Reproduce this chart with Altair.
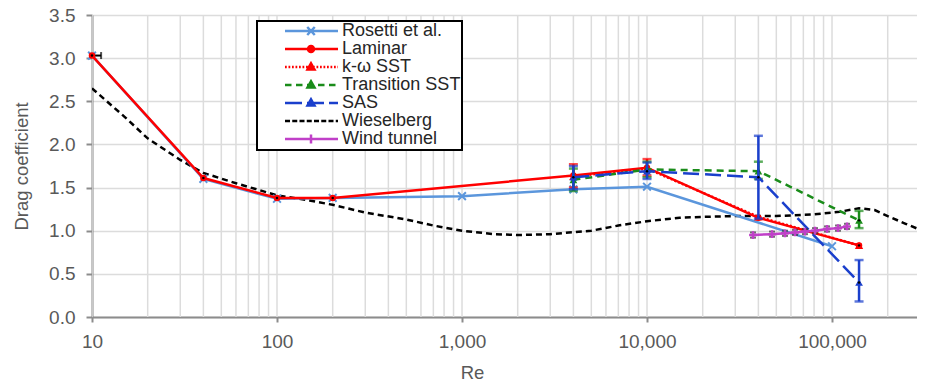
import altair as alt
import pandas as pd

# ---------------- data ----------------
rosetti_re = [10, 40, 100, 200, 1000, 4000, 10000, 100000]
rosetti_cd = [3.03, 1.60, 1.37, 1.38, 1.40, 1.48, 1.51, 0.82]
rosetti_xerr_cd = [3.03]
rosetti_xerr_lo = [10]
rosetti_xerr_hi = [11.2]

laminar_re = [10, 40, 100, 200, 4000, 10000, 40000, 140000]
laminar_cd = [3.03, 1.61, 1.38, 1.38, 1.64, 1.73, 1.15, 0.83]
laminar_err_re = [4000, 10000]
laminar_err_lo = [1.50, 1.64]
laminar_err_hi = [1.77, 1.83]

kw_re = [4000, 10000, 40000, 140000]
kw_cd = [1.63, 1.72, 1.16, 0.83]

trans_re = [4000, 10000, 40000, 140000]
trans_cd = [1.59, 1.71, 1.69, 1.12]
trans_lo = [1.46, 1.62, 1.60, 1.03]
trans_hi = [1.72, 1.80, 1.80, 1.23]

sas_re = [4000, 10000, 40000, 140000]
sas_cd = [1.62, 1.69, 1.62, 0.40]
sas_lo = [1.48, 1.60, 1.14, 0.18]
sas_hi = [1.75, 1.79, 2.10, 0.66]

wies_re = [10, 15, 20, 30, 40, 60, 100, 150, 200, 300, 500, 700, 1000, 1500,
           2000, 3000, 5000, 7000, 10000, 15000, 20000, 30000, 50000, 80000,
           110000, 140000, 170000, 200000, 250000, 300000]
wies_cd = [2.65, 2.32, 2.07, 1.82, 1.67, 1.55, 1.41, 1.35, 1.30, 1.21, 1.13,
           1.06, 1.00, 0.96, 0.95, 0.96, 1.00, 1.06, 1.11, 1.15, 1.16, 1.17,
           1.17, 1.19, 1.22, 1.26, 1.24, 1.17, 1.08, 1.01]

wind_re = [37400, 47400, 55700, 63100, 71400, 80900, 94000, 107700, 120500]
wind_cd = [0.95, 0.96, 0.97, 0.98, 0.99, 1.00, 1.02, 1.03, 1.05]
wind_lo = [0.92, 0.93, 0.94, 0.95, 0.96, 0.97, 0.99, 1.00, 1.02]
wind_hi = [0.98, 0.99, 1.00, 1.01, 1.02, 1.03, 1.05, 1.06, 1.08]

x_ticks = [10, 100, 1000, 10000, 100000]
y_ticks = [0.0, 0.5, 1.0, 1.5, 2.0, 2.5, 3.0, 3.5]
grid_mult = [1, 2, 3, 4, 5, 6, 7, 8, 9]
grid_decades = [10, 100, 1000, 10000, 100000]
grid_re = [m * d for d in grid_decades for m in grid_mult]

series_names = ["Rosetti et al.", "Laminar", "k-ω SST", "Transition SST",
                "SAS", "Wieselberg", "Wind tunnel"]
series_colors = ["#5b96dc", "#ff0000", "#ff0000", "#1a8c1a", "#1a3fcc",
                 "#000000", "#c040c8"]

C_ROS, C_LAM, C_KW, C_TR, C_SAS, C_WIE, C_WIND = series_colors

# ---------------- scales / axes ----------------
XS = alt.Scale(type="log", domain=[10, 288000], nice=False)
YS = alt.Scale(domain=[0, 3.5], nice=False)

x_axis = alt.Axis(values=x_ticks, format=",", title="Re", grid=False,
                  tickSize=5, labelPadding=10, labelFlush=False,
                  titleX=380, titleY=55, titleBaseline="middle",
                  titleAlign="center")
y_axis = alt.Axis(values=y_ticks, format=".1f", title="Drag coefficient",
                  grid=True, tickSize=6, labelPadding=11,
                  titleX=-71, titleY=151, titleAngle=270,
                  titleBaseline="middle", titleAlign="center")


def X(field):
    return alt.X(field, type="quantitative", scale=XS, axis=x_axis)


def Y(field):
    return alt.Y(field, type="quantitative", scale=YS, axis=y_axis)


def df_line(re, cd):
    return pd.DataFrame({"re": re, "cd": cd})


def line_layer(df, color, dash=None, width=2.5):
    kw = dict(color=color, strokeWidth=width, clip=True)
    if dash:
        kw["strokeDash"] = dash
    return alt.Chart(df).mark_line(**kw).encode(x=X("re"), y=Y("cd"))


def point_layer(df, shape, color, size, filled=True, sw=1.5):
    return alt.Chart(df).mark_point(shape=shape, color=color, size=size,
                                    filled=filled, opacity=1,
                                    strokeWidth=sw).encode(x=X("re"), y=Y("cd"))


def dot_layer(df):
    return alt.Chart(df).mark_point(shape="circle", color="black", size=6,
                                    filled=True, opacity=1).encode(x=X("re"), y=Y("cd"))


def err_layers(re, lo, hi, color, width=2.5, cap=9):
    df = pd.DataFrame({"re": re, "lo": lo, "hi": hi})
    rule = alt.Chart(df).mark_rule(color=color, strokeWidth=width).encode(
        x=X("re"), y=Y("lo"), y2=alt.Y2("hi"))
    c1 = alt.Chart(df).mark_tick(orient="horizontal", color=color, size=cap,
                                 thickness=width).encode(x=X("re"), y=Y("lo"))
    c2 = alt.Chart(df).mark_tick(orient="horizontal", color=color, size=cap,
                                 thickness=width).encode(x=X("re"), y=Y("hi"))
    return [rule, c1, c2]


SHAPE_X = "M-1,-1L1,1M-1,1L1,-1"
SHAPE_PLUS = "M-1,0L1,0M0,-1L0,1"

layers = []

# vertical log grid
grid_df = pd.DataFrame({"re": grid_re})
layers.append(alt.Chart(grid_df).mark_rule(color="#dcdcdc", strokeWidth=1.5,
                                           clip=True).encode(x=X("re")))

# Wieselberg
layers.append(line_layer(df_line(wies_re, wies_cd), C_WIE, dash=[6, 4]))

# Rosetti
ros = df_line(rosetti_re, rosetti_cd)
layers.append(line_layer(ros, C_ROS))
layers.append(point_layer(ros, SHAPE_X, C_ROS, 60, filled=False, sw=2))
xerr = pd.DataFrame({"lo": rosetti_xerr_lo, "hi": rosetti_xerr_hi,
                     "cd": rosetti_xerr_cd})
layers.append(alt.Chart(xerr).mark_rule(color="black", strokeWidth=2, clip=True)
              .encode(x=X("lo"), x2=alt.X2("hi"), y=Y("cd")))
layers.append(alt.Chart(xerr).mark_tick(orient="vertical", color="black",
                                        size=7, thickness=2)
              .encode(x=X("hi"), y=Y("cd")))

# Laminar
lam = df_line(laminar_re, laminar_cd)
layers.append(line_layer(lam, C_LAM))
layers += err_layers(laminar_err_re, laminar_err_lo, laminar_err_hi, C_LAM)
layers.append(point_layer(lam, "circle", C_LAM, 42))
layers.append(dot_layer(lam))

# k-omega SST
kw = df_line(kw_re, kw_cd)
layers.append(line_layer(kw, C_KW, dash=[2, 2]))
layers.append(point_layer(kw, "triangle-up", C_KW, 70))
layers.append(dot_layer(kw))

# Transition SST
tr = df_line(trans_re, trans_cd)
layers.append(line_layer(tr, C_TR, dash=[7, 5]))
layers += err_layers(trans_re, trans_lo, trans_hi, C_TR)
layers.append(point_layer(tr, "triangle-up", C_TR, 60))
layers.append(dot_layer(tr))

# SAS
sas = df_line(sas_re, sas_cd)
layers.append(line_layer(sas, C_SAS, dash=[16, 6]))
layers += err_layers(sas_re, sas_lo, sas_hi, C_SAS)
layers.append(point_layer(sas, "triangle-up", C_SAS, 60))
layers.append(dot_layer(sas))

# Wind tunnel
wind = df_line(wind_re, wind_cd)
layers.append(line_layer(wind, C_WIND))
layers += err_layers(wind_re, wind_lo, wind_hi, "#333333", width=2, cap=6)
layers.append(point_layer(wind, SHAPE_PLUS, C_WIND, 60, filled=False, sw=2.5))


# ---------------- legend (symbols drawn as line + marker paths) ----------------
def dashed(x0, x1, dash, gap):
    parts = []
    x = x0
    while x < x1 - 1e-6:
        e = min(x + dash, x1)
        parts.append(f"M{x:.2f},0L{e:.2f},0")
        x = e + gap
    return "".join(parts)


L0, L1, MC = 3.6, 14.2, 8.8
TRI = (f"M{MC},-0.75L{MC+0.7:.2f},0.5L{MC-0.7:.2f},0.5Z"
       f"M{MC},-0.2L{MC+0.25:.2f},0.25L{MC-0.25:.2f},0.25Z")
leg_paths = [
    f"M{L0},0L{L1},0"
    + f"M{MC-0.75:.2f},-0.8L{MC+0.75:.2f},0.8M{MC-0.75:.2f},0.8L{MC+0.75:.2f},-0.8",
    f"M{L0},0L{L1},0"
    + f"M{MC+0.6:.2f},0A0.6,0.6,0,1,1,{MC-0.6:.2f},0A0.6,0.6,0,1,1,{MC+0.6:.2f},0"
    + f"M{MC+0.2:.2f},0A0.2,0.2,0,1,1,{MC-0.2:.2f},0A0.2,0.2,0,1,1,{MC+0.2:.2f},0",
    dashed(L0, L1, 0.35, 0.35) + TRI,
    dashed(L0, L1, 1.3, 0.9) + TRI,
    dashed(L0, L1, 3.4, 1.0) + TRI,
    dashed(L0, L1, 1.0, 0.45),
    f"M{L0},0L{L1},0" + f"M{MC},-0.9L{MC},0.9",
]

leg_df = pd.DataFrame({"series": series_names})
leg = alt.Legend(title=None, orient="none", legendX=165, legendY=6,
                 labelOffset=66, symbolSize=100, symbolStrokeWidth=2.5,
                 symbolOpacity=1)
legend_layer = alt.Chart(leg_df).mark_point(
    size=100, strokeWidth=2.5, opacity=1, filled=False, clip=True
).encode(
    x=alt.value(-60), y=alt.value(-60),
    color=alt.Color("series:N", scale=alt.Scale(domain=series_names,
                                                range=series_colors), legend=leg),
    shape=alt.Shape("series:N", scale=alt.Scale(domain=series_names,
                                                range=leg_paths), legend=leg),
)
layers.append(legend_layer)

chart = alt.layer(*layers).properties(
    width=825, height=302,
    autosize=alt.AutoSizeParams(type="none"),
    padding={"left": 84, "top": 7, "right": 0, "bottom": 64},
).configure_view(stroke=None).configure_axis(
    labelFont="Liberation Sans", labelFontSize=19, labelColor="#595959",
    titleFont="Liberation Sans", titleFontSize=18.5, titleColor="#595959",
    titleFontWeight="normal", domainColor="#8c8c8c", domainWidth=2,
    tickColor="#8c8c8c", tickWidth=2, gridColor="#dcdcdc", gridWidth=1.5,
).configure_legend(
    strokeColor="black", strokeWidth=2, fillColor="white", padding=1,
    labelFont="Liberation Sans", labelFontSize=18, labelColor="#262626",
    rowPadding=-2.3,
)

chart.save("out.html", embed_options={"renderer": "svg", "actions": False})
